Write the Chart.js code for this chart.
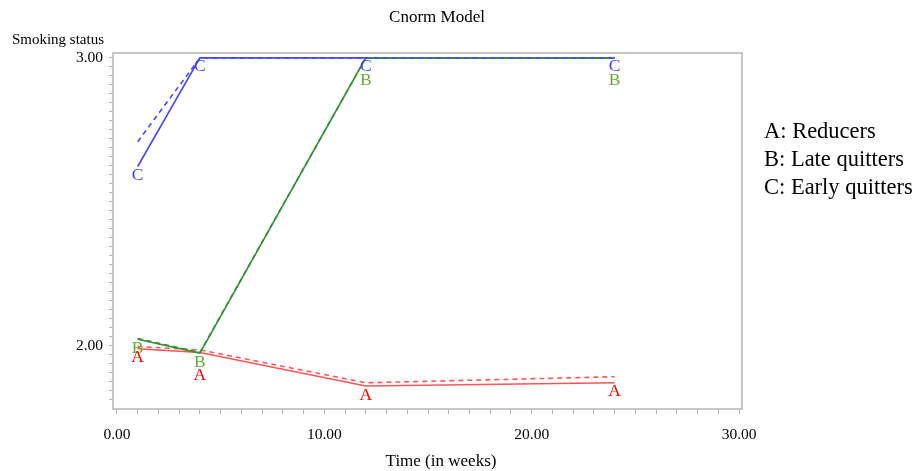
<!DOCTYPE html>
<html>
<head>
<meta charset="utf-8">
<script src="https://cdn.jsdelivr.net/npm/chart.js@4/dist/chart.umd.min.js"></script>
<style>
  html, body { margin: 0; padding: 0; background: #fff; }
  #wrap { width: 916px; height: 471px; position: relative; }
</style>
</head>
<body>
<div id="wrap"><canvas id="cnormChart"></canvas></div>
<script>
// CNORM MODEL - smoking status by group

const weeks = [1, 4, 12, 24];

const reducersObs = [1.990, 1.977, 1.861, 1.872];
const reducersPred = [1.998, 1.986, 1.872, 1.893];
const lateObs = [2.023, 1.975, 3.000, 3.000];
const latePred = [2.026, 1.977, 3.000, 3.000];
const earlyObs = [2.623, 3.000, 3.000, 3.000];
const earlyPred = [2.709, 3.000, 3.000, 3.000];

const groupLetters = ['A', 'B', 'C'];
const groupNames = ['Reducers', 'Late quitters', 'Early quitters'];

const xTickValues = [];
for (let i = 0; i <= 30; i++) xTickValues.push(i);

const serif = "'Liberation Serif', 'DejaVu Serif', serif";
const frameGray = '#b4b4b4';

const red = 'rgb(255, 85, 85)';
const green = 'rgb(50, 145, 50)';
const blue = 'rgb(70, 70, 255)';
const labelColors = ['rgb(255, 0, 0)', 'rgb(105, 170, 60)', 'rgb(60, 60, 255)'];

function pts(values) {
    return weeks.map((w, i) => ({ x: w, y: values[i] }));
}

function line(values, color, dashed, order, group) {
    return {
        data: pts(values),
        borderColor: color,
        borderWidth: 1.6,
        borderDash: dashed ? [5, 4] : [],
        pointRadius: 0,
        tension: 0,
        fill: false,
        order: order,
        group: group,
        observed: !dashed
    };
}

// letters next to the observed points, frame, titles and the text legend
const annotate = {
    id: 'annotate',
    afterDatasetsDraw(chart) {
        const ctx = chart.ctx;
        const a = chart.chartArea;
        ctx.save();
        ctx.strokeStyle = frameGray;
        ctx.lineWidth = 1.5;
        ctx.strokeRect(a.left, a.top, a.right - a.left, a.bottom - a.top);

        ctx.font = '17.5px ' + serif;
        ctx.textAlign = 'center';
        ctx.textBaseline = 'middle';
        const placed = [];
        [2, 1, 0].forEach(g => {
            chart.data.datasets.forEach((ds, di) => {
                if (ds.group !== g || !ds.observed) return;
                chart.getDatasetMeta(di).data.forEach(p => {
                    let x = p.x, y = p.y + 9;
                    while (placed.some(q => Math.abs(q.x - x) < 10 && Math.abs(q.y - y) < 8)) y += 14;
                    placed.push({ x: x, y: y });
                    ctx.fillStyle = labelColors[g];
                    ctx.fillText(groupLetters[g], x, y);
                });
            });
        });

        ctx.fillStyle = '#000';
        ctx.font = '17px ' + serif;
        ctx.fillText('Cnorm Model', 437, 18);
        ctx.fillText('Time (in weeks)', 441, 462);
        ctx.textAlign = 'right';
        ctx.font = '15px ' + serif;
        ctx.fillText('Smoking status', 104, 40);

        ctx.textAlign = 'left';
        ctx.font = '22.5px ' + serif;
        groupNames.forEach((n, i) => {
            ctx.fillText(groupLetters[i] + ': ' + n, 764, 132 + i * 28);
        });
        ctx.restore();
    }
};

new Chart(document.getElementById('cnormChart'), {
    type: 'line',
    data: {
        datasets: [
            line(latePred, green, true, 0, 1),
            line(earlyObs, blue, false, 1, 2),
            line(earlyPred, blue, true, 2, 2),
            line(lateObs, green, false, 3, 1),
            line(reducersObs, red, false, 4, 0),
            line(reducersPred, red, true, 5, 0)
        ]
    },
    options: {
        responsive: true,
        maintainAspectRatio: false,
        animation: false,
        layout: { padding: { top: 53, right: 174, bottom: 0, left: 0 } },
        plugins: {
            legend: { display: false },
            title: { display: false },
            tooltip: { enabled: false }
        },
        scales: {
            x: {
                type: 'linear',
                min: -0.19,
                max: 30.14,
                afterBuildTicks: s => { s.ticks = xTickValues.map(v => ({ value: v })); },
                afterFit: s => { s.height = 62; },
                border: { display: false },
                grid: { drawOnChartArea: false, tickLength: 5, color: frameGray },
                ticks: {
                    autoSkip: false,
                    maxRotation: 0,
                    padding: 12,
                    color: '#000',
                    font: { family: serif, size: 15.5 },
                    callback: v => (v % 10 === 0 ? v.toFixed(2) : '')
                }
            },
            y: {
                min: 1.781,
                max: 3.017,
                afterBuildTicks: s => {
                    const t = [];
                    for (let k = 0; k <= 38; k++) t.push({ value: 3 - k / 32 });
                    s.ticks = t;
                },
                afterFit: s => { s.width = 113; },
                border: { display: false },
                grid: { drawOnChartArea: false, tickLength: 4, color: frameGray },
                ticks: {
                    autoSkip: false,
                    padding: 6,
                    color: '#000',
                    font: { family: serif, size: 15.5 },
                    callback: v => (Math.abs(v - Math.round(v)) < 1e-6 ? v.toFixed(2) : '')
                }
            }
        }
    },
    plugins: [annotate]
});
</script>
</body>
</html>
